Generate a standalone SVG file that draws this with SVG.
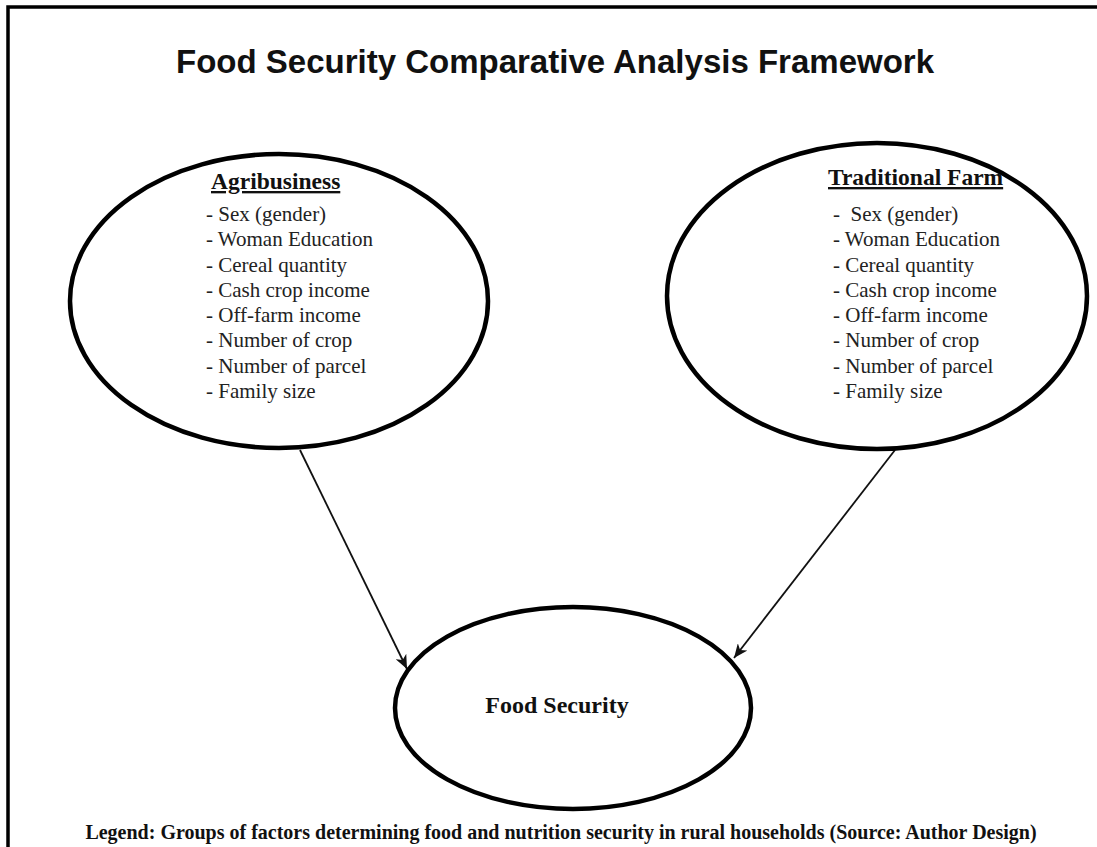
<svg xmlns="http://www.w3.org/2000/svg" width="1097" height="847" viewBox="0 0 1097 847">
<style>
.node{fill:#fff;stroke:#000;stroke-width:4.5}
.title{font-family:"Liberation Sans",Arial,sans-serif;font-weight:bold;font-size:33px;fill:#111}
.head{font-family:"Liberation Serif","Times New Roman",serif;font-weight:bold;font-size:23.5px;fill:#111;text-decoration:underline}
.item{font-family:"Liberation Serif","Times New Roman",serif;font-size:21px;fill:#222}
.center{font-family:"Liberation Serif","Times New Roman",serif;font-weight:bold;font-size:24px;fill:#111}
.legend{font-family:"Liberation Serif","Times New Roman",serif;font-weight:bold;font-size:20px;fill:#111}
.edge{stroke:#111;stroke-width:1.8;fill:none}
</style>
<defs>
<marker id="arr" markerUnits="userSpaceOnUse" markerWidth="16" markerHeight="12" refX="14" refY="6" orient="auto">
<path d="M0,0 L14,6 L0,12 L4,6 Z" fill="#111"/>
</marker>
</defs>
<rect x="0" y="0" width="1097" height="847" fill="#fff"/>
<rect x="8" y="7" width="1200" height="1000" fill="none" stroke="#000" stroke-width="3.5"/>
<text class="title" x="555" y="73" text-anchor="middle">Food Security Comparative Analysis Framework</text>
<g id="connectors">
<line class="edge" x1="300" y1="450" x2="407" y2="669" marker-end="url(#arr)"/>
<line class="edge" x1="895" y1="450" x2="734" y2="658" marker-end="url(#arr)"/>
</g>
<g id="agribusiness">
<ellipse class="node" cx="279" cy="301" rx="209" ry="147"/>
<text class="head" x="211" y="189">Agribusiness</text>
<text class="item" x="206" y="221">- Sex (gender)</text>
<text class="item" x="206" y="246">- Woman Education</text>
<text class="item" x="206" y="272">- Cereal quantity</text>
<text class="item" x="206" y="297">- Cash crop income</text>
<text class="item" x="206" y="322">- Off-farm income</text>
<text class="item" x="206" y="347">- Number of crop</text>
<text class="item" x="206" y="373">- Number of parcel</text>
<text class="item" x="206" y="398">- Family size</text>
</g>
<g id="traditional">
<ellipse class="node" cx="877" cy="296" rx="210" ry="153"/>
<text class="head" x="828" y="185">Traditional Farm</text>
<text class="item" x="833" y="221">-&#160; Sex (gender)</text>
<text class="item" x="833" y="246">- Woman Education</text>
<text class="item" x="833" y="272">- Cereal quantity</text>
<text class="item" x="833" y="297">- Cash crop income</text>
<text class="item" x="833" y="322">- Off-farm income</text>
<text class="item" x="833" y="347">- Number of crop</text>
<text class="item" x="833" y="373">- Number of parcel</text>
<text class="item" x="833" y="398">- Family size</text>
</g>
<g id="foodsecurity">
<ellipse class="node" cx="573" cy="708" rx="178" ry="101"/>
<text class="center" x="557" y="713" text-anchor="middle">Food Security</text>
</g>
<text class="legend" x="561" y="839" text-anchor="middle">Legend: Groups of factors determining food and nutrition security in rural households (Source: Author Design)</text>
</svg>
